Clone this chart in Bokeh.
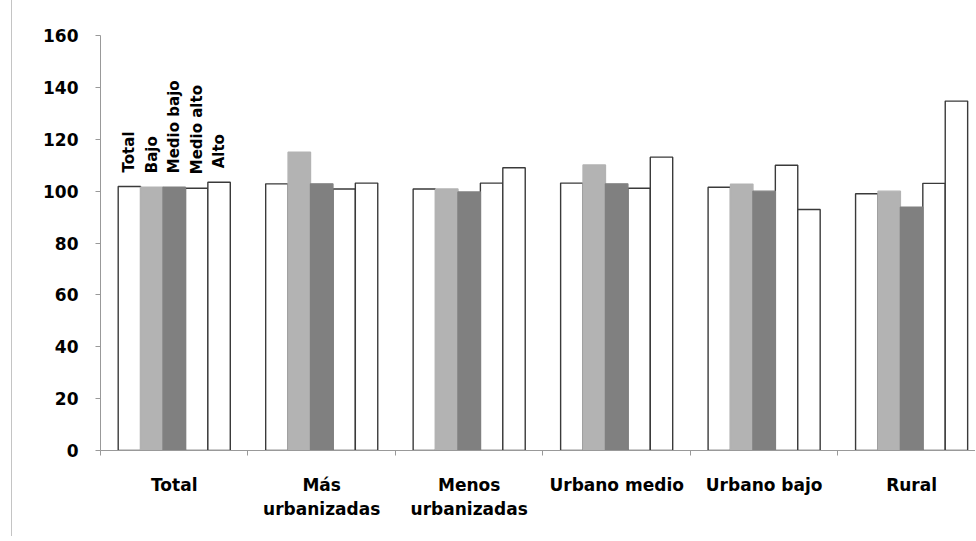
import numpy as np
from bokeh.plotting import figure
from bokeh.models import Range1d, FixedTicker, ColumnDataSource
from bokeh.core.properties import value
from bokeh.embed import file_html
from bokeh.resources import INLINE

categories = ["Total", "Más\nurbanizadas", "Menos\nurbanizadas", "Urbano medio", "Urbano bajo", "Rural"]
series_names = ["Total", "Bajo", "Medio bajo", "Medio alto", "Alto"]
total = [101.8, 102.8, 100.8, 103.1, 101.5, 99.0]
bajo = [101.5, 115.0, 100.8, 110.1, 102.7, 100.0]
medio_bajo = [101.5, 102.8, 99.7, 102.8, 100.0, 93.8]
medio_alto = [101.1, 100.8, 103.1, 101.1, 110.0, 103.0]
alto = [103.4, 103.1, 109.0, 113.1, 92.9, 134.7]
y_ticks = [0, 20, 40, 60, 80, 100, 120, 140, 160]

series_values = [total, bajo, medio_bajo, medio_alto, alto]
fills = ["white", "#b3b3b3", "#808080", "white", "white"]
lines = ["#3a3a3a", "#b3b3b3", "#808080", "#3a3a3a", "#3a3a3a"]

FONT = "DejaVu Sans"
bar_w = 0.152
offsets = [(-2 + k) * bar_w for k in range(5)]
idx = np.arange(len(categories))

p = figure(width=964, height=536, output_backend="svg", toolbar_location=None,
           x_range=Range1d(-0.5, 5.44), y_range=Range1d(0, 160),
           min_border_left=88, min_border_right=0, min_border_top=35, min_border_bottom=86)
p.styles = {"margin-left": "11px", "border-left": "1px solid #c4c4c4"}
p.outline_line_color = None
p.xgrid.grid_line_color = None
p.ygrid.grid_line_color = None

order = [0, 3, 4, 1, 2]
for k in order:
    src = ColumnDataSource(dict(x=idx + offsets[k], top=series_values[k]))
    p.vbar(x="x", top="top", width=bar_w, bottom=0, source=src,
           fill_color=fills[k], line_color=lines[k], line_width=1.4)

# rotated series labels above the first group
lab_src = ColumnDataSource(dict(
    x=[offsets[k] for k in range(5)],
    y=[series_values[k][0] for k in range(5)],
    t=series_names))
p.text(x="x", y="y", text="t", source=lab_src, angle=np.pi / 2,
       text_align="left", text_baseline="middle", y_offset=-14,
       text_font=value(FONT), text_font_size="15px", text_font_style="bold",
       text_color="black")

# axes
xa = p.xaxis[0]
xa.ticker = FixedTicker(ticks=list(idx), minor_ticks=list(np.arange(-0.5, 6, 1.0)))
xa.major_label_overrides = {int(i): c for i, c in zip(idx, categories)}
xa.major_tick_line_color = None
xa.major_tick_out = 5
xa.major_tick_in = 0
xa.minor_tick_line_color = "#999999"
xa.minor_tick_out = 5
xa.minor_tick_in = 0
xa.axis_line_color = "#999999"
xa.major_label_standoff = 19
xa.major_label_text_font = FONT
xa.major_label_text_font_size = "17px"
xa.major_label_text_font_style = "bold"
xa.major_label_text_color = "black"

ya = p.yaxis[0]
ya.ticker = FixedTicker(ticks=y_ticks)
ya.minor_tick_line_color = None
ya.major_tick_line_color = "#999999"
ya.major_tick_out = 5
ya.major_tick_in = 0
ya.axis_line_color = "#999999"
ya.major_label_standoff = 17
ya.major_label_text_font = FONT
ya.major_label_text_font_size = "17px"
ya.major_label_text_font_style = "bold"
ya.major_label_text_color = "black"

open("out.html", "w").write(file_html(p, INLINE))
